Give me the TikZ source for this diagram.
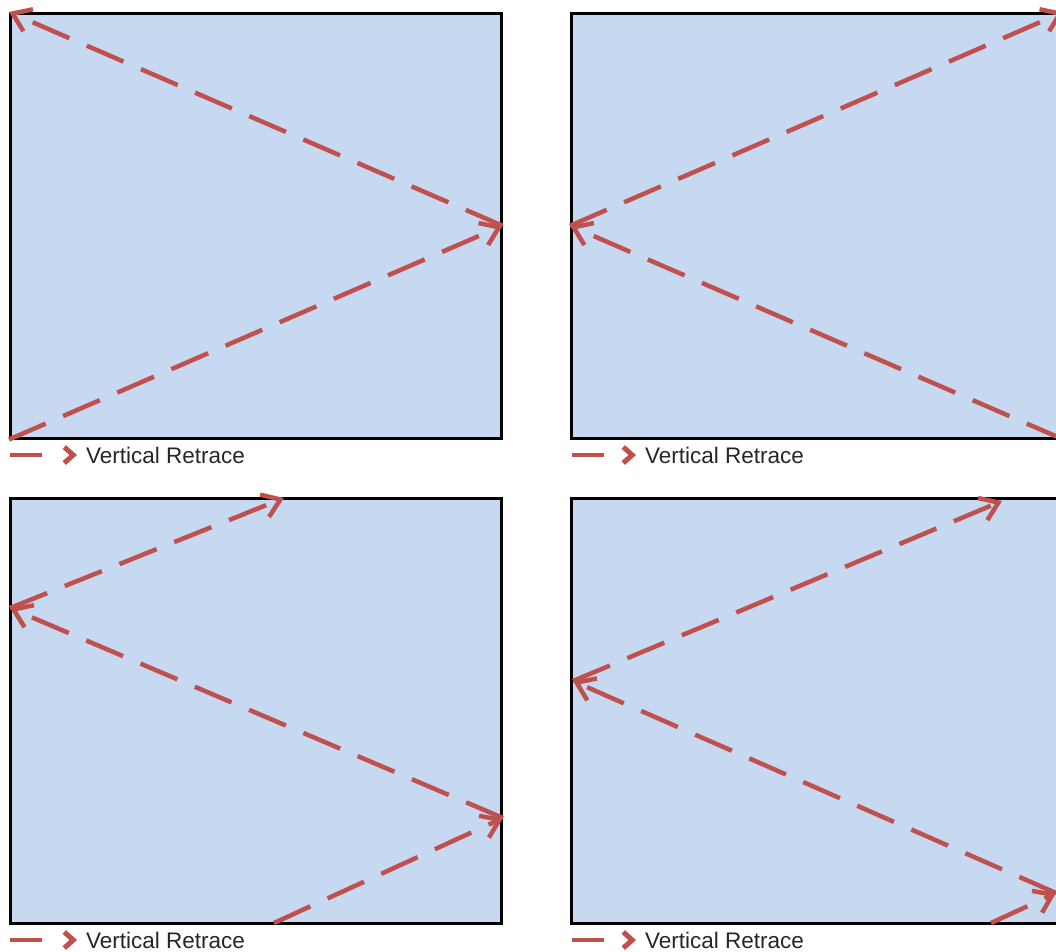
\documentclass[tikz,border=0pt]{standalone}
\usepackage{fontspec}
\setmainfont{Liberation Sans}
\usepackage{xcolor}
\usetikzlibrary{arrows.meta,positioning}
\definecolor{screenB}{HTML}{C6D9F0}
\definecolor{beamR}{HTML}{C0504D}

\begin{document}
\begin{tikzpicture}[
  x=1pt,y=-1pt,
  panel/.style={draw=black,line width=2.5pt,fill=screenB,minimum width=491pt,
                minimum height=425pt,anchor=north west,inner sep=0pt},
  trace/.style={beamR,line width=4.5pt,dash pattern=on 40pt off 19pt,
                -{Straight Barb[length=17pt,width=24pt,line width=4.5pt]}},
  keytrace/.style={beamR,line width=4.5pt,dash pattern=on 32pt off 40pt,
                -{Straight Barb[length=9pt,width=16pt,line width=5pt]}},
  keytext/.style={font=\fontsize{22.5}{26}\selectfont,text=black!85,inner sep=0pt}
]
\useasboundingbox (0,0) rectangle (1056,951);
\clip (0,0) rectangle (1056,951);

% Top left screen
\node[panel] (scrA) at (9,12) {};
\draw[trace] (scrA.south west) -- (scrA.east);
\draw[trace] (scrA.east) -- (scrA.north west);

% Top right screen
\node[panel] (scrB) at (570,12) {};
\draw[trace] (scrB.south east) -- (scrB.west);
\draw[trace] (scrB.west) -- (scrB.north east);

% Bottom left screen
\node[panel] (scrC) at (9,497) {};
\coordinate (c0) at (274,923);
\coordinate (c1) at (503,818);
\coordinate (c2) at (10,608);
\coordinate (c3) at (284,498);
\draw[trace] (c0) -- (c1);
\draw[trace] (c1) -- (c2);
\draw[trace] (c2) -- (c3);

% Bottom right screen
\node[panel] (scrD) at (570,497) {};
\coordinate (d0) at (991,923);
\coordinate (d1) at (1056,893);
\coordinate (d2) at (573,681);
\coordinate (d3) at (1002,501);
\draw[trace] (d0) -- (d1);
\draw[trace] (d1) -- (d2);
\draw[trace] (d2) -- (d3);

% Keys
\coordinate (kA0) at (10,455);  \coordinate (kA1) at (77,455);
\coordinate (kB0) at (572,455); \coordinate (kB1) at (636,455);
\coordinate (kC0) at (10,940);  \coordinate (kC1) at (77,940);
\coordinate (kD0) at (572,940); \coordinate (kD1) at (636,940);
\draw[keytrace] (kA0) -- (kA1);
\draw[keytrace] (kB0) -- (kB1);
\draw[keytrace] (kC0) -- (kC1);
\draw[keytrace] (kD0) -- (kD1);
\node[keytext,right=9pt of kA1] (tA) {Vertical Retrace};
\node[keytext,right=9pt of kB1] (tB) {Vertical Retrace};
\node[keytext,right=9pt of kC1] (tC) {Vertical Retrace};
\node[keytext,right=9pt of kD1] (tD) {Vertical Retrace};
\end{tikzpicture}
\end{document}
